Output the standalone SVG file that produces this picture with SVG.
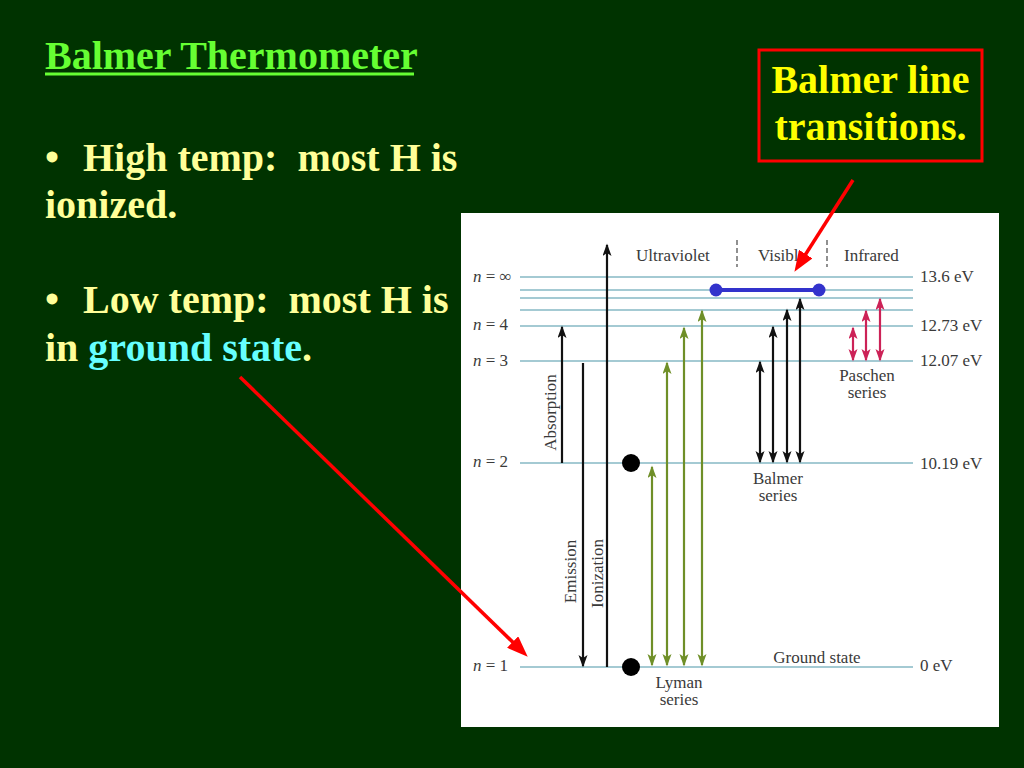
<svg xmlns="http://www.w3.org/2000/svg" width="1024" height="768" viewBox="0 0 1024 768">
  <style>
    .slide { font-family: "Liberation Serif", "Times New Roman", serif; font-weight: bold; font-size: 40px; }
    .body { fill: #ffff99; }
    .cyan { fill: #66ffff; }
    .title { fill: #66ff33; }
    .callout { fill: #ffff00; }
    .lbl { font-family: "Liberation Serif", "Times New Roman", serif; font-size: 17px; fill: #3a3a3a; }
    .lvl { stroke: #86b8c4; stroke-width: 1.5; }
    .blk { stroke: #111111; stroke-width: 2.2; fill: none; }
    .grn { stroke: #6f8f28; stroke-width: 2.2; fill: none; }
    .pas { stroke: #cc2257; stroke-width: 2.2; fill: none; }
    .red { stroke: #ff0000; stroke-width: 3.5; fill: none; }
  </style>
  <defs>
    <marker id="hB" markerUnits="userSpaceOnUse" markerWidth="14" markerHeight="10" refX="11" refY="4.5" orient="auto-start-reverse">
      <path d="M0,0 L12.5,4.5 L0,9 L3,4.5 z" fill="#111111"/>
    </marker>
    <marker id="hG" markerUnits="userSpaceOnUse" markerWidth="14" markerHeight="10" refX="11" refY="4.5" orient="auto-start-reverse">
      <path d="M0,0 L12.5,4.5 L0,9 L3,4.5 z" fill="#6f8f28"/>
    </marker>
    <marker id="hP" markerUnits="userSpaceOnUse" markerWidth="14" markerHeight="10" refX="11" refY="4.5" orient="auto-start-reverse">
      <path d="M0,0 L12.5,4.5 L0,9 L3,4.5 z" fill="#cc2257"/>
    </marker>
    <marker id="hR" markerUnits="userSpaceOnUse" markerWidth="22" markerHeight="16" refX="14" refY="8" orient="auto">
      <path d="M0,0 L21,8 L0,16 z" fill="#ff0000"/>
    </marker>
  </defs>

  <rect x="0" y="0" width="1024" height="768" fill="#003300"/>

  <g id="title">
    <text class="slide title" x="45" y="69">Balmer Thermometer</text>
    <line x1="45" y1="74" x2="414" y2="74" stroke="#66ff33" stroke-width="3"/>
  </g>

  <g id="bullet-high">
    <text class="slide body" x="45" y="171">•</text>
    <text class="slide body" x="83" y="171" xml:space="preserve">High temp:  most H is</text>
    <text class="slide body" x="45" y="218">ionized.</text>
  </g>

  <g id="bullet-low">
    <text class="slide body" x="45" y="313">•</text>
    <text class="slide body" x="83" y="313" xml:space="preserve">Low temp:  most H is</text>
    <text class="slide body" x="45" y="361" xml:space="preserve">in <tspan class="cyan">ground state</tspan>.</text>
  </g>

  <g id="callout-balmer">
    <rect x="759" y="50" width="223" height="111" fill="none" stroke="#ff0000" stroke-width="3"/>
    <text class="slide callout" x="870.5" y="93" text-anchor="middle">Balmer line</text>
    <text class="slide callout" x="870.5" y="140" text-anchor="middle">transitions.</text>
  </g>

  <g id="energy-diagram">
    <rect x="461" y="213" width="538" height="514" fill="#ffffff"/>

    <g id="levels">
      <line class="lvl" x1="520" y1="277" x2="913" y2="277"/>
      <line class="lvl" x1="520" y1="290" x2="913" y2="290"/>
      <line class="lvl" x1="520" y1="298" x2="913" y2="298"/>
      <line class="lvl" x1="520" y1="310" x2="913" y2="310"/>
      <line class="lvl" x1="520" y1="326" x2="913" y2="326"/>
      <line class="lvl" x1="520" y1="361" x2="913" y2="361"/>
      <line class="lvl" x1="520" y1="463" x2="913" y2="463"/>
      <line class="lvl" x1="520" y1="667" x2="913" y2="667"/>
    </g>

    <g id="level-labels">
      <text class="lbl" x="473" y="282"><tspan font-style="italic">n</tspan> = ∞</text>
      <text class="lbl" x="473" y="330"><tspan font-style="italic">n</tspan> = 4</text>
      <text class="lbl" x="473" y="366"><tspan font-style="italic">n</tspan> = 3</text>
      <text class="lbl" x="473" y="467"><tspan font-style="italic">n</tspan> = 2</text>
      <text class="lbl" x="473" y="671"><tspan font-style="italic">n</tspan> = 1</text>
      <text class="lbl" x="920" y="282">13.6 eV</text>
      <text class="lbl" x="920" y="331">12.73 eV</text>
      <text class="lbl" x="920" y="366">12.07 eV</text>
      <text class="lbl" x="920" y="469">10.19 eV</text>
      <text class="lbl" x="920" y="671">0 eV</text>
    </g>

    <g id="region-headers">
      <text class="lbl" x="636" y="261">Ultraviolet</text>
      <text class="lbl" x="758" y="261">Visible</text>
      <text class="lbl" x="844" y="261">Infrared</text>
      <line x1="737" y1="240" x2="737" y2="267" stroke="#555555" stroke-width="1.3" stroke-dasharray="5,3"/>
      <line x1="827" y1="240" x2="827" y2="267" stroke="#555555" stroke-width="1.3" stroke-dasharray="5,3"/>
    </g>

    <g id="process-arrows">
      <line class="blk" x1="562" y1="463" x2="562" y2="327" marker-end="url(#hB)"/>
      <line class="blk" x1="583" y1="363" x2="583" y2="666" marker-end="url(#hB)"/>
      <line class="blk" x1="607" y1="667" x2="607" y2="245" marker-end="url(#hB)"/>
      <text class="lbl" transform="translate(556,412.5) rotate(-90)" text-anchor="middle">Absorption</text>
      <text class="lbl" transform="translate(576,571.5) rotate(-90)" text-anchor="middle">Emission</text>
      <text class="lbl" transform="translate(603,573.5) rotate(-90)" text-anchor="middle">Ionization</text>
    </g>

    <g id="lyman-series">
      <line class="grn" x1="652" y1="665" x2="652" y2="467" marker-start="url(#hG)" marker-end="url(#hG)"/>
      <line class="grn" x1="667" y1="665" x2="667" y2="363" marker-start="url(#hG)" marker-end="url(#hG)"/>
      <line class="grn" x1="684" y1="665" x2="684" y2="328" marker-start="url(#hG)" marker-end="url(#hG)"/>
      <line class="grn" x1="702" y1="665" x2="702" y2="311" marker-start="url(#hG)" marker-end="url(#hG)"/>
      <text class="lbl" x="679" y="688" text-anchor="middle">Lyman</text>
      <text class="lbl" x="679" y="705" text-anchor="middle">series</text>
    </g>

    <g id="balmer-series">
      <line class="blk" x1="760" y1="462" x2="760" y2="362" marker-start="url(#hB)" marker-end="url(#hB)"/>
      <line class="blk" x1="773" y1="462" x2="773" y2="327" marker-start="url(#hB)" marker-end="url(#hB)"/>
      <line class="blk" x1="787" y1="462" x2="787" y2="310" marker-start="url(#hB)" marker-end="url(#hB)"/>
      <line class="blk" x1="800" y1="462" x2="800" y2="299" marker-start="url(#hB)" marker-end="url(#hB)"/>
      <text class="lbl" x="778" y="484" text-anchor="middle">Balmer</text>
      <text class="lbl" x="778" y="501" text-anchor="middle">series</text>
    </g>

    <g id="paschen-series">
      <line class="pas" x1="853" y1="360" x2="853" y2="328" marker-start="url(#hP)" marker-end="url(#hP)"/>
      <line class="pas" x1="866" y1="360" x2="866" y2="311" marker-start="url(#hP)" marker-end="url(#hP)"/>
      <line class="pas" x1="880" y1="360" x2="880" y2="299" marker-start="url(#hP)" marker-end="url(#hP)"/>
      <text class="lbl" x="867" y="381" text-anchor="middle">Paschen</text>
      <text class="lbl" x="867" y="398" text-anchor="middle">series</text>
    </g>

    <text class="lbl" x="817" y="663" text-anchor="middle">Ground state</text>

    <g id="balmer-highlight">
      <line x1="716" y1="290" x2="819" y2="290" stroke="#3333cc" stroke-width="4"/>
      <circle cx="716" cy="290" r="6.5" fill="#3333cc"/>
      <circle cx="819" cy="290" r="6.5" fill="#3333cc"/>
    </g>

    <g id="electron-dots">
      <circle cx="631" cy="463" r="9" fill="#000000"/>
      <circle cx="631" cy="667" r="9" fill="#000000"/>
    </g>
  </g>

  <g id="connectors">
    <line class="red" x1="853" y1="180" x2="798.2" y2="265.9" marker-end="url(#hR)"/>
    <line class="red" x1="240" y1="377" x2="522.7" y2="651.8" marker-end="url(#hR)"/>
  </g>
</svg>
